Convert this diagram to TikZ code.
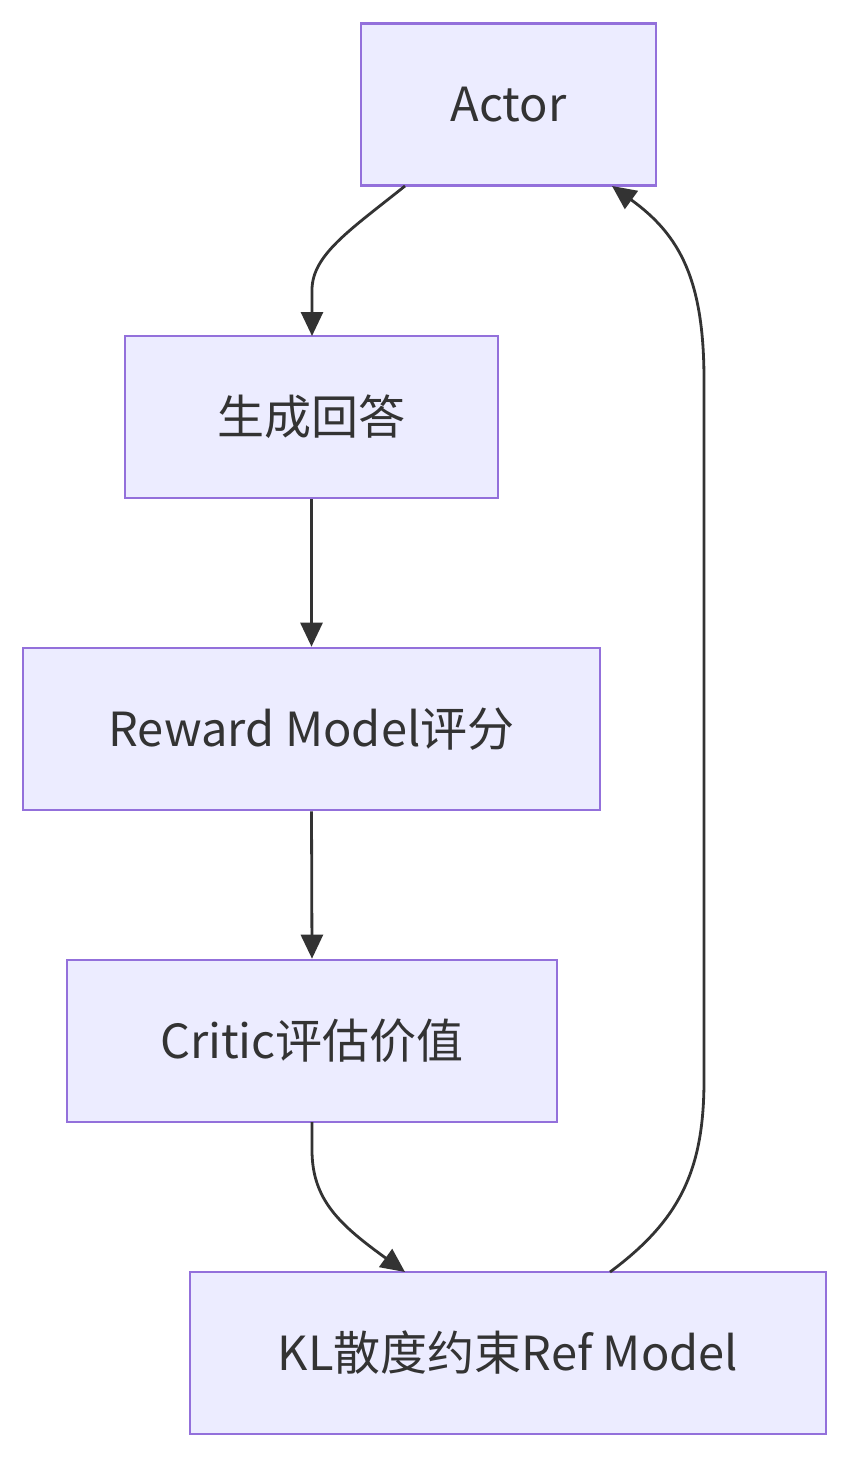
\documentclass[tikz,border=0pt]{standalone}
\usepackage{fontspec}
\setmainfont{Noto Sans CJK SC}
\usetikzlibrary{arrows.meta}
\definecolor{nodefill}{HTML}{ECECFF}
\definecolor{nodeline}{HTML}{9370DB}
\definecolor{txt}{HTML}{333333}
\tikzset{
  box/.style={draw=nodeline, fill=nodefill, line width=2.6pt, text=txt, minimum height=162pt, inner sep=0pt,
    font=\fontsize{47}{56}\selectfont},
  edge/.style={draw=txt, line width=2.8pt, -{Triangle[length=24pt,width=22pt]}},
}
\begin{document}
\begin{tikzpicture}[x=1pt,y=-1pt]
\useasboundingbox (0,0) rectangle (850,1458);
\node[box, minimum width=295pt] (actor) at (508.5,104.5) {Actor};
\node[box, minimum width=373pt] (gen) at (311.5,417) {生成回答};
\node[box, minimum width=577pt] (rm) at (311.5,729) {Reward Model评分};
\node[box, minimum width=490pt] (critic) at (312,1041) {Critic评估价值};
\node[box, minimum width=636pt] (kl) at (508,1353) {KL散度约束Ref Model};
\coordinate (a1) at (405,186);
\coordinate (g1) at (312,336);
\draw[edge] (a1) .. controls (350,230) and (312,255) .. (312,290) -- (g1);
\draw[edge] (gen.south) -- (rm.north);
\draw[edge] (rm.south) -- (critic.north);
\coordinate (c1) at (312,1122);
\coordinate (k1) at (405,1272);
\draw[edge] (c1) -- (312,1150) .. controls (312,1200) and (340,1225) .. (k1);
\coordinate (k2) at (610,1272);
\coordinate (a2) at (612,186);
\draw[edge] (k2) .. controls (680,1220) and (704,1170) .. (704,1080) -- (704,380) .. controls (704,280) and (680,235) .. (a2);
\end{tikzpicture}
\end{document}
